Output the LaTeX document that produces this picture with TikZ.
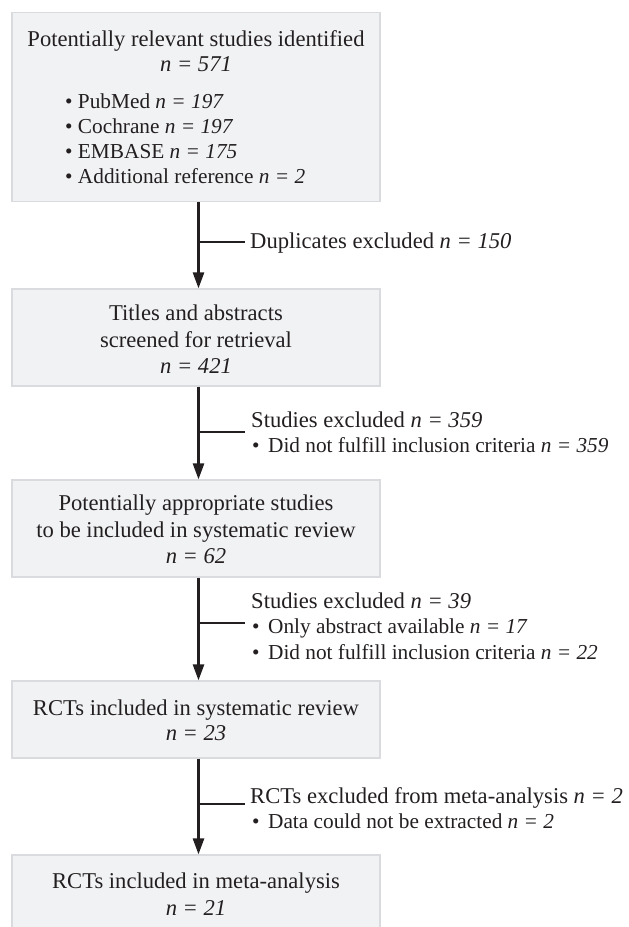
\documentclass[tikz,border=0pt]{standalone}
\usepackage{fontspec}
\setmainfont{Liberation Serif}
\usetikzlibrary{arrows.meta}
\definecolor{boxfill}{RGB}{241,242,244}
\definecolor{boxline}{RGB}{218,219,222}
\definecolor{ink}{RGB}{35,31,32}
\newcommand{\nval}[1]{\textit{n = #1}}
\newcommand{\bul}{\textbullet\hspace{0.4em}}
\begin{document}
\begin{tikzpicture}[x=1pt,y=-1pt,
  box/.style={draw=boxline, line width=1.2pt, fill=boxfill, minimum width=368pt, inner sep=0pt},
  txt/.style={inner sep=0pt, anchor=base, font=\fontsize{22.6}{27}\selectfont, text=ink},
  lefttxt/.style={txt, anchor=base west},
  subtxt/.style={lefttxt, font=\fontsize{21.3}{26}\selectfont},
  flow/.style={draw=ink, line width=2.5pt, -{Triangle[length=16pt,width=11pt]}},
  side/.style={draw=ink, line width=1.5pt}]
\clip (0,0) rectangle (629,927);
\node[box, minimum height=189pt] (b1) at (196,107){};
\node[box, minimum height=97pt] (b2) at (196,337.5){};
\node[box, minimum height=97pt] (b3) at (196,528.5){};
\node[box, minimum height=77pt] (b4) at (196,719.5){};
\node[box, minimum height=90pt] (b5) at (196,900){};
% box texts
\node[txt] (t1a) at (196,46.5){Potentially relevant studies identified};
\node[txt] (t1b) at (196,71.5){\nval{571}};
\node[subtxt] (t1c) at (65,108){\textbullet\ PubMed \nval{197}};
\node[subtxt] (t1d) at (65,133){\textbullet\ Cochrane \nval{197}};
\node[subtxt] (t1e) at (65,158){\textbullet\ EMBASE \nval{175}};
\node[subtxt] (t1f) at (65,183){\textbullet\ Additional reference \nval{2}};
\node[txt] (t2a) at (196,320){Titles and abstracts};
\node[txt] (t2b) at (196,347){screened for retrieval};
\node[txt] (t2c) at (196,373){\nval{421}};
\node[txt] (t3a) at (196,510){Potentially appropriate studies};
\node[txt] (t3b) at (196,537){to be included in systematic review};
\node[txt] (t3c) at (196,563){\nval{62}};
\node[txt] (t4a) at (196,715){RCTs included in systematic review};
\node[txt] (t4b) at (196,740){\nval{23}};
\node[txt] (t5a) at (196,888){RCTs included in meta-analysis};
\node[txt] (t5b) at (196,915){\nval{21}};
% arrows
\draw[flow] ([xshift=2.5pt]b1.south) -- ([xshift=2.5pt]b2.north);
\draw[flow] ([xshift=2.5pt]b2.south) -- ([xshift=2.5pt]b3.north);
\draw[flow] ([xshift=2.5pt]b3.south) -- ([xshift=2.5pt]b4.north);
\draw[flow] ([xshift=2.5pt]b4.south) -- ([xshift=2.5pt]b5.north);
% side branches
\coordinate (j1) at (198.5,242);
\coordinate (e1) at (245,242);
\draw[side] (j1) -- (e1);
\node[lefttxt] (s1) at (250,248){Duplicates excluded \nval{150}};
\coordinate (j2) at (198.5,432);
\coordinate (e2) at (245,432);
\draw[side] (j2) -- (e2);
\node[lefttxt] (s2a) at (251,427){Studies excluded \nval{359}};
\node[subtxt] (s2b) at (252,452){\bul Did not fulfill inclusion criteria \nval{359}};
\coordinate (j3) at (198.5,623);
\coordinate (e3) at (245,623);
\draw[side] (j3) -- (e3);
\node[lefttxt] (s3a) at (251,608){Studies excluded \nval{39}};
\node[subtxt] (s3b) at (252,633){\bul Only abstract available \nval{17}};
\node[subtxt] (s3c) at (252,659){\bul Did not fulfill inclusion criteria \nval{22}};
\coordinate (j4) at (198.5,804);
\coordinate (e4) at (245,804);
\draw[side] (j4) -- (e4);
\node[lefttxt] (s4a) at (250,803){RCTs excluded from meta-analysis \nval{2}};
\node[subtxt] (s4b) at (252,828){\bul Data could not be extracted \nval{2}};
\end{tikzpicture}
\end{document}
